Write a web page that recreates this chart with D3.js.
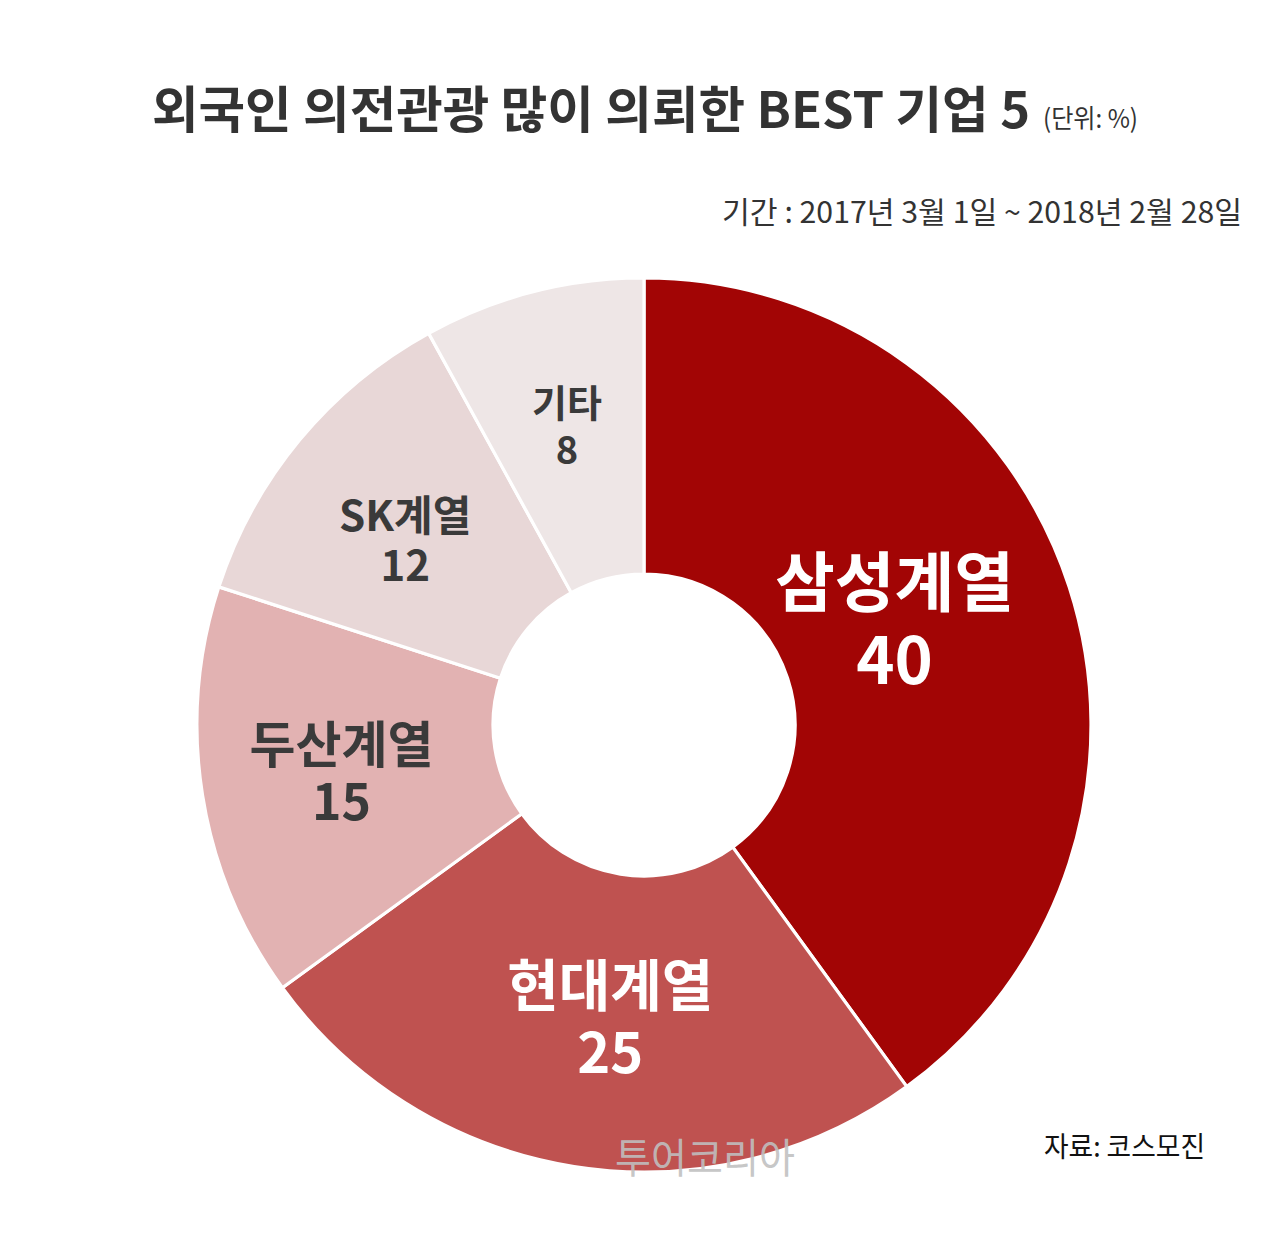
<!DOCTYPE html>
<html>
<head>
<meta charset="utf-8">
<script src="https://cdn.jsdelivr.net/npm/d3@7"></script>
<style>
  html, body { margin: 0; padding: 0; background: #ffffff; }
  svg { display: block; }
  text { font-family: "Noto Sans CJK KR", "Noto Sans", sans-serif; }
</style>
</head>
<body>
<svg id="chart" width="1285" height="1235"></svg>
<script>
// ---- data ----
const categories = ["삼성계열", "현대계열", "두산계열", "SK계열", "기타"];
const values = [40, 25, 15, 12, 8];
const titleText = "외국인 의전관광 많이 의뢰한 BEST 기업 5";
const unitText = "(단위: %)";
const periodText = "기간 : 2017년 3월 1일 ~ 2018년 2월 28일";
const sourceText = "자료: 코스모진";
const watermarkText = "투어코리아";

// ---- styles (kept separate from data) ----
const sliceColors = ["#a20505", "#bf5250", "#e2b2b2", "#e8d7d7", "#eee6e6"];
const labelColors = ["#ffffff", "#ffffff", "#3a3a3a", "#3a3a3a", "#3a3a3a"];
const labelFontSizes = [65, 56, 50, 42, 38];
const labelLineGaps = [78, 67, 57, 50, 47];
const labelRadii = [272, 294, 306, 303, 310];
const labelAngleShift = [-4.9, -2.4, 0.2, -1.6, 0]; // degrees

const svg = d3.select("#chart");
const cx = 644, cy = 725, outerR = 447, innerR = 151;

const pie = d3.pie().sort(null).value(d => d.value);
const arcs = pie(categories.map((c, i) => ({ name: c, value: values[i], i })));
const arc = d3.arc().innerRadius(innerR).outerRadius(outerR);

const g = svg.append("g").attr("transform", `translate(${cx},${cy})`);
g.selectAll("path.slice")
  .data(arcs)
  .join("path")
  .attr("class", "slice")
  .attr("d", arc)
  .attr("fill", d => sliceColors[d.data.i])
  .attr("stroke", "#ffffff")
  .attr("stroke-width", 3.2)
  .attr("stroke-linejoin", "miter");

// labels (one text element per slice, two lines as tspans)
const lbl = g.selectAll("text.lbl")
  .data(arcs)
  .join("text")
  .attr("class", "lbl")
  .attr("text-anchor", "middle")
  .attr("font-weight", 700)
  .attr("font-size", d => labelFontSizes[d.data.i])
  .attr("fill", d => labelColors[d.data.i])
  .attr("transform", d => {
    const i = d.data.i;
    const a = (d.startAngle + d.endAngle) / 2 + labelAngleShift[i] * Math.PI / 180;
    const p = d3.pointRadial(a, labelRadii[i]);
    return `translate(${p[0]},${p[1]})`;
  });

lbl.append("tspan")
  .attr("x", 0)
  .attr("y", d => -labelLineGaps[d.data.i] / 2 + labelFontSizes[d.data.i] * 0.36 + 2)
  .text(d => d.data.name);

lbl.append("tspan")
  .attr("x", 0)
  .attr("y", d => labelLineGaps[d.data.i] / 2 + labelFontSizes[d.data.i] * 0.36 + 2)
  .text(d => d.data.value);

// title
svg.append("text")
  .attr("x", 152).attr("y", 128)
  .attr("font-size", 50)
  .attr("font-weight", 700)
  .attr("fill", "#333333")
  .attr("textLength", 878)
  .attr("lengthAdjust", "spacingAndGlyphs")
  .text(titleText);

svg.append("text")
  .attr("x", 1043).attr("y", 128)
  .attr("font-size", 26)
  .attr("fill", "#333333")
  .attr("textLength", 95)
  .attr("lengthAdjust", "spacingAndGlyphs")
  .text(unitText);

// period
svg.append("text")
  .attr("x", 722).attr("y", 223)
  .attr("font-size", 30)
  .attr("fill", "#333333")
  .attr("textLength", 520)
  .attr("lengthAdjust", "spacingAndGlyphs")
  .text(periodText);

// source
svg.append("text")
  .attr("x", 1044).attr("y", 1157)
  .attr("font-size", 28)
  .attr("fill", "#111111")
  .attr("textLength", 161)
  .attr("lengthAdjust", "spacingAndGlyphs")
  .text(sourceText);

// watermark
svg.append("text")
  .attr("x", 615).attr("y", 1173)
  .attr("font-size", 41)
  .attr("fill", "#c0c0c0")
  .attr("fill-opacity", 0.9)
  .attr("textLength", 180)
  .attr("lengthAdjust", "spacingAndGlyphs")
  .text(watermarkText);
</script>
</body>
</html>
